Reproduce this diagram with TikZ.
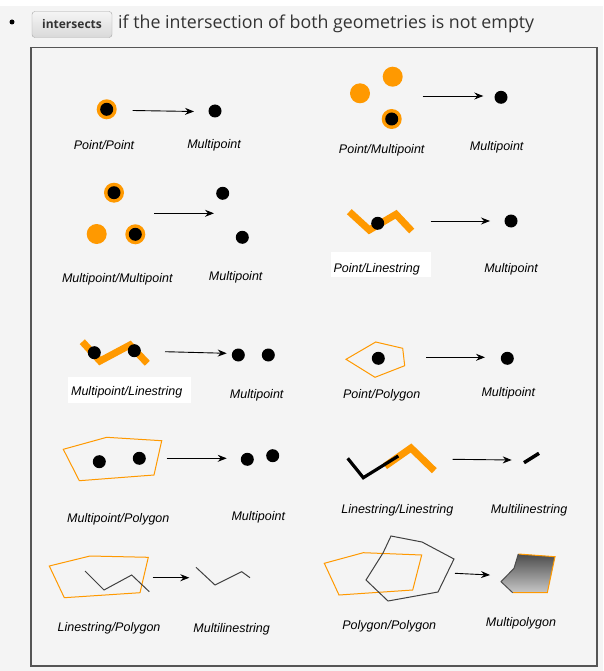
\documentclass[tikz,border=0pt]{standalone}
\usepackage{fontspec}
\setmainfont{Liberation Sans}
\newfontfamily\headfont{Open Sans}
\usetikzlibrary{arrows.meta,shapes.geometric}
\definecolor{org}{HTML}{FF9900}
\definecolor{bgc}{HTML}{F4F4F4}
\definecolor{boxc}{HTML}{555555}
\definecolor{txtc}{HTML}{333333}
\begin{document}
\begin{tikzpicture}[x=1pt,y=-1pt,
  dot/.style={circle, fill=black, inner sep=0pt, minimum size=13pt},
  odot/.style={circle, fill=org, inner sep=0pt, minimum size=20pt},
  lbl/.style={font=\fontsize{12.5}{14}\selectfont\itshape, text=black, inner sep=1pt},
  arr/.style={line width=0.9pt, -{Stealth[length=9pt,width=7pt,inset=3pt]}},
  opoly/.style={draw=org, line width=1pt, line join=miter},
  oline/.style={draw=org, line width=7pt},
  kline/.style={draw=black!75, line width=1pt},
  btn/.style={draw=black!35, rounded corners=3pt, top color=white!96!black, bottom color=white!85!black,
    minimum width=80pt, minimum height=26pt, inner sep=0pt,
    font=\headfont\bfseries\fontsize{12}{14}\selectfont, text=txtc}
]
\useasboundingbox (0,0) rectangle (603,671);
\fill[bgc] (0,0) rectangle (603,671);
\fill[white] (0,0) rectangle (603,6);
% header
\node[circle, fill=black, inner sep=0pt, minimum size=5pt] (bul) at (12,22) {};
\node[btn] (button) at (72,24.5) {intersects};
\node[anchor=base west, inner sep=0pt, font=\headfont\fontsize{17.8}{20}\selectfont, text=txtc] (head) at (118,29) {if the intersection of both geometries is not empty};
% frame
\draw[boxc, line width=1.5pt] (31,47.5) rectangle (597,666);

% Panel 1: Point/Point
\node[odot] (a1) at (106.7,109.3) {};
\node[dot] (a1b) at (a1) {};
\coordinate (a1s) at (132.7,110.5);
\coordinate (a1e) at (194,111.5);
\draw[arr] (a1s) -- (a1e);
\node[dot] (a1r) at (215,111) {};
\node[lbl] (a1l) at (104,145) {Point/Point};
\node[lbl] (a1m) at (214,145) {Multipoint};

% Panel 2: Point/Multipoint
\node[odot] (a2x) at (360,93.3) {};
\node[odot] (a2y) at (392.7,76.7) {};
\node[odot] (a2z) at (391.7,119) {};
\node[dot] (a2zb) at (a2z) {};
\coordinate (a2s) at (422.7,96);
\coordinate (a2e) at (483.3,96);
\draw[arr] (a2s) -- (a2e);
\node[dot] (a2r) at (501,97.3) {};
\node[lbl] (a2l) at (381.7,150.7) {Point/Multipoint};
\node[lbl] (a2m) at (496.7,147.3) {Multipoint};

% Panel 3: Multipoint/Multipoint
\node[odot] (a3x) at (114,192.7) {};
\node[dot] (a3xb) at (a3x) {};
\node[odot] (a3y) at (96.7,234) {};
\node[odot] (a3z) at (135.3,234.3) {};
\node[dot] (a3zb) at (a3z) {};
\coordinate (a3s) at (154,213.3);
\coordinate (a3e) at (214,213.3);
\draw[arr] (a3s) -- (a3e);
\node[dot] (a3r1) at (222.7,193.3) {};
\node[dot] (a3r2) at (242.3,237.3) {};
\node[lbl] (a3l) at (117.3,279.3) {Multipoint/Multipoint};
\node[lbl] (a3m) at (235.7,277.3) {Multipoint};

% Panel 4: Point/Linestring
\draw[oline] (349.3,211.7) -- (369.3,230) -- (396,214.3) -- (411.7,231);
\node[dot] (a4p) at (377.7,223.3) {};
\fill[white] (330.7,251.7) rectangle (430.7,277.3);
\node[lbl] (a4l) at (376.7,269) {Point/Linestring};
\coordinate (a4s) at (430.7,221);
\coordinate (a4e) at (490,221);
\draw[arr] (a4s) -- (a4e);
\node[dot] (a4r) at (511,221) {};
\node[lbl] (a4m) at (511,269) {Multipoint};

% Panel 5: Multipoint/Linestring
\draw[oline] (82.3,341.7) -- (100,361) -- (130,345) -- (147.3,363.3);
\node[dot] (a5p1) at (94.3,352.7) {};
\node[dot] (a5p2) at (134.3,350.7) {};
\fill[white] (68.3,377.3) rectangle (190.7,403.3);
\node[lbl] (a5l) at (126.7,392.7) {Multipoint/Linestring};
\coordinate (a5s) at (165,351.7);
\coordinate (a5e) at (226.7,353.3);
\draw[arr] (a5s) -- (a5e);
\node[dot] (a5r1) at (238.3,355) {};
\node[dot] (a5r2) at (268.3,355) {};
\node[lbl] (a5m) at (256.7,395) {Multipoint};

% Panel 6: Point/Polygon
\draw[opoly] (346,359.3) -- (375.7,342) -- (402.7,348.3) -- (404.7,365.7) -- (375,377.3) -- cycle;
\node[dot] (a6p) at (378.3,358.3) {};
\coordinate (a6s) at (426,357.3);
\coordinate (a6e) at (485,357.3);
\draw[arr] (a6s) -- (a6e);
\node[dot] (a6r) at (507.3,358.3) {};
\node[lbl] (a6l) at (381.7,395) {Point/Polygon};
\node[lbl] (a6m) at (508.3,393.3) {Multipoint};

% Panel 7: Multipoint/Polygon
\draw[opoly] (63.3,449.3) -- (106.7,437.3) -- (161.7,440.7) -- (154,475) -- (79.3,480.7) -- cycle;
\node[dot] (a7p1) at (99.3,461.7) {};
\node[dot] (a7p2) at (139.3,458.3) {};
\coordinate (a7s) at (166.7,458.3);
\coordinate (a7e) at (226.7,458.3);
\draw[arr] (a7s) -- (a7e);
\node[dot] (a7r1) at (247.3,459.3) {};
\node[dot] (a7r2) at (272.7,455.7) {};
\node[lbl] (a7l) at (118.3,519.3) {Multipoint/Polygon};
\node[lbl] (a7m) at (258.3,517.7) {Multipoint};

% Panel 8: Linestring/Linestring
\draw[oline, line join=miter] (385,466.2) -- (411,448) -- (434.3,470.7);
\draw[black, line width=3.2pt, line join=miter] (347.7,458.3) -- (363.3,477.7) -- (398.3,456);
\coordinate (a8s) at (452.7,459.3);
\coordinate (a8e) at (511.7,460);
\draw[arr] (a8s) -- (a8e);
\draw[black, line width=3.5pt] (524,462.7) -- (539,453.3);
\node[lbl] (a8l) at (397.3,510.7) {Linestring/Linestring};
\node[lbl] (a8m) at (529,510.7) {Multilinestring};

% Panel 9: Linestring/Polygon
\draw[opoly] (49.3,566) -- (90,556) -- (148.3,557.3) -- (140,592.7) -- (64.3,597.7) -- cycle;
\draw[kline] (85,571) -- (104,590) -- (131.7,575) -- (149.3,591.7);
\coordinate (a9s) at (152.7,577.7);
\coordinate (a9e) at (189.3,577.7);
\draw[arr] (a9s) -- (a9e);
\draw[kline] (196,567.3) -- (215,585) -- (241.7,571.7) -- (250,577.7);
\node[lbl] (a9l) at (109,628.3) {Linestring/Polygon};
\node[lbl] (a9m) at (231.7,629.3) {Multilinestring};

% Panel 10: Polygon/Polygon
\draw[opoly] (324.3,563.3) -- (363.3,552.7) -- (421.7,555) -- (412.7,590) -- (339,595) -- cycle;
\draw[kline] (391,536) -- (383,553) -- (366,580) -- (388,601) -- (438,592) -- (454,559) -- (422,542) -- cycle;
\coordinate (a10s) at (455,573.3);
\coordinate (a10e) at (490,575);
\draw[arr] (a10s) -- (a10e);
\shade[top color=black!70, bottom color=black!22] (518.3,554) -- (555,556.7) -- (547.3,592.7) -- (512.7,592.7) -- (501,581.7) -- (514,568.3) -- cycle;
\draw[org, line width=1pt] (518.3,554) -- (555,556.7) -- (547.3,592.7) -- (512.7,592.7);
\draw[black!70, line width=1pt] (512.7,592.7) -- (501,581.7) -- (514,568.3) -- (518.3,554);
\node[lbl] (a10l) at (389.3,626) {Polygon/Polygon};
\node[lbl] (a10m) at (521,623.3) {Multipolygon};
\end{tikzpicture}
\end{document}
